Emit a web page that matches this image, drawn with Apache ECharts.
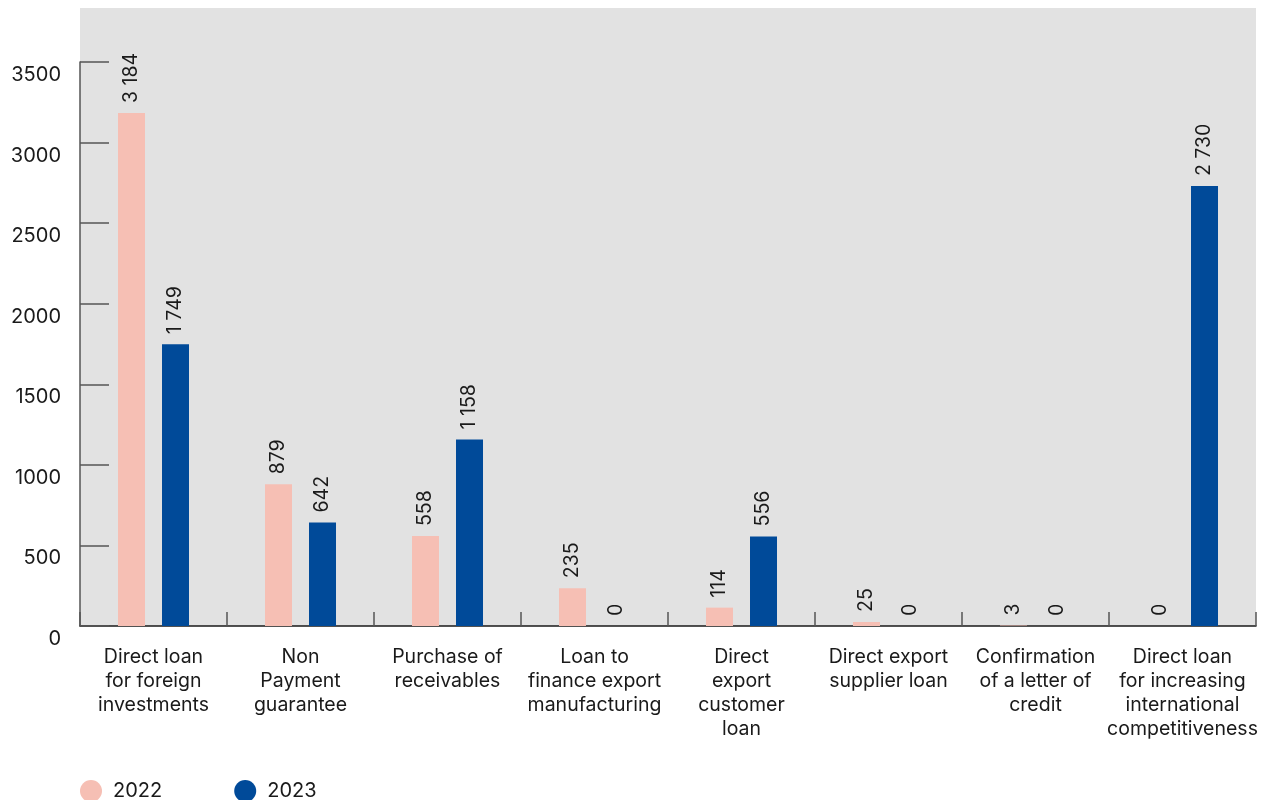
<!DOCTYPE html>
<html>
<head>
<meta charset="utf-8">
<script src="https://cdn.jsdelivr.net/npm/echarts@6/dist/echarts.min.js"></script>
<style>
  html, body { margin: 0; padding: 0; background: #ffffff; }
  #chart { width: 1267px; height: 800px; }
</style>
</head>
<body>
<div id="chart"></div>
<script>
// Financing volumes by product type, 2022 vs 2023
const categories = [
  'Direct loan\nfor foreign\ninvestments',
  'Non\nPayment\nguarantee',
  'Purchase of\nreceivables',
  'Loan to\nfinance export\nmanufacturing',
  'Direct\nexport\ncustomer\nloan',
  'Direct export\nsupplier loan',
  'Confirmation\nof a letter of\ncredit',
  'Direct loan\nfor increasing\ninternational\ncompetitiveness'
];
const values2022 = [3184, 879, 558, 235, 114, 25, 3, 0];
const values2023 = [1749, 642, 1158, 0, 556, 0, 0, 2730];
const seriesNames = ['2022', '2023'];
const yTicks = [0, 500, 1000, 1500, 2000, 2500, 3000, 3500];

const FONT = 'Inter, "Noto Sans", sans-serif';
const PINK = '#F6BFB4';
const BLUE = '#004A99';

// thousands separated by a space: 3184 -> "3 184"
function fmt(v) {
  return String(v).replace(/\B(?=(\d{3})+(?!\d))/g, ' ');
}

const chart = echarts.init(document.getElementById('chart'));

function barSeries(name, data, color) {
  return {
    name: name,
    type: 'bar',
    data: data,
    barWidth: 27,
    barGap: '63%',
    itemStyle: { color: color },
    label: {
      show: true,
      position: 'top',
      rotate: 90,
      align: 'left',
      verticalAlign: 'middle',
      distance: 10,
      fontFamily: FONT,
      fontSize: 19.5,
      color: '#1a1a1a',
      formatter: p => fmt(p.value)
    }
  };
}

chart.setOption({
  animation: false,
  textStyle: { fontFamily: FONT },
  graphic: [{
    type: 'rect',
    z: -10,
    silent: true,
    shape: { x: 80, y: 8, width: 1176, height: 618 },
    style: { fill: '#E2E2E2' }
  }],
  grid: { left: 80, right: 11, top: 62, bottom: 174, containLabel: false },
  legend: {
    left: 75,
    top: 775,
    icon: 'circle',
    itemWidth: 22,
    itemHeight: 22,
    itemGap: 72,
    textStyle: { fontFamily: FONT, fontSize: 20, color: '#1a1a1a', padding: [0, 0, 0, 6] },
    data: seriesNames
  },
  xAxis: {
    type: 'category',
    data: categories,
    axisLine: { show: true, lineStyle: { color: '#1a1a1a', width: 1.5 } },
    axisTick: { show: true, inside: true, length: 14, alignWithLabel: false, lineStyle: { color: '#555', width: 1.5 } },
    axisLabel: {
      interval: 0,
      margin: 19,
      fontFamily: FONT,
      fontSize: 19.5,
      lineHeight: 24,
      color: '#1a1a1a'
    },
    splitLine: { show: false }
  },
  yAxis: {
    type: 'value',
    min: 0,
    max: 3500,
    interval: 500,
    axisLine: { show: true, lineStyle: { color: '#555', width: 1.5 } },
    axisTick: { show: true, inside: true, length: 29, lineStyle: { color: '#555', width: 1.5 } },
    axisLabel: {
      margin: 19,
      verticalAlign: 'top',
      padding: [3, 0, 0, 0],
      fontFamily: FONT,
      fontSize: 20,
      color: '#1a1a1a',
      formatter: v => (yTicks.includes(v) ? String(v) : '')
    },
    splitLine: { show: false }
  },
  series: [
    barSeries(seriesNames[0], values2022, PINK),
    barSeries(seriesNames[1], values2023, BLUE)
  ]
});
</script>
</body>
</html>
